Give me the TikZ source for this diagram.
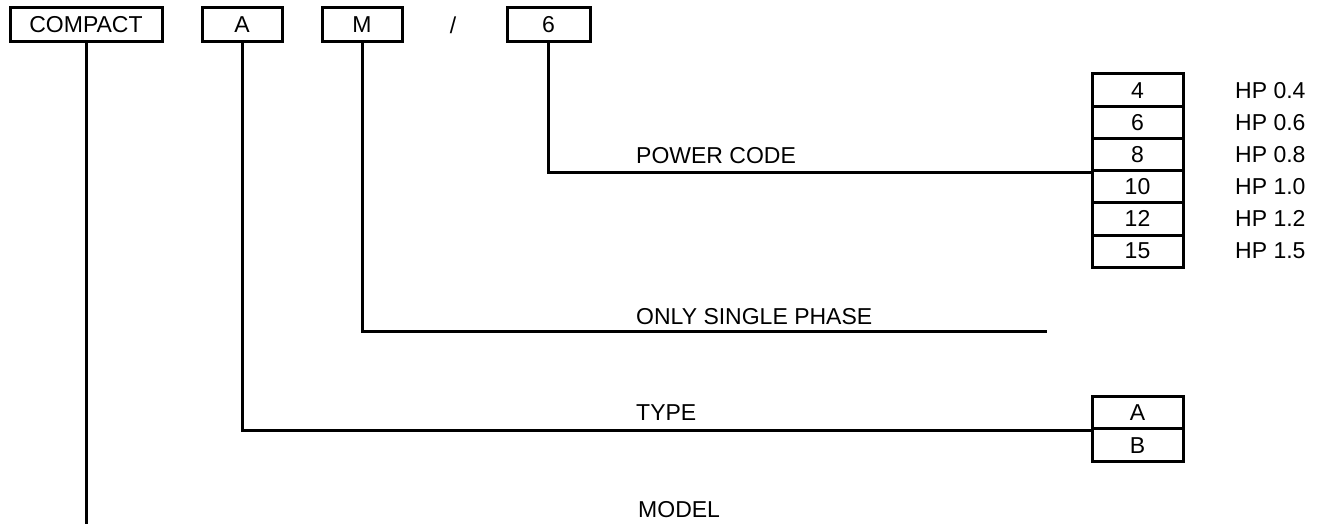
\documentclass[tikz,border=0pt]{standalone}
\usepackage{fontspec}
\setmainfont{Liberation Sans}
\begin{document}
\begin{tikzpicture}[x=1pt,y=-1pt,
  every node/.style={font=\fontsize{23}{26}\selectfont, inner sep=0pt},
  codebox/.style={draw, line width=3pt, minimum height=34pt},
  cell/.style={draw, line width=3pt, minimum width=91pt, minimum height=32.2pt},
  lab/.style={anchor=base west},
  hp/.style={anchor=west},
  conn/.style={line width=3pt}]
\useasboundingbox (0,0) rectangle (1329,524);
% top code boxes
\node[codebox, minimum width=152pt] (compact) at (86,25) {COMPACT};
\node[codebox, minimum width=80pt] (bA) at (242,25) {A};
\node[codebox, minimum width=80pt] (bM) at (362,25) {M};
\node (slash) at (453,25) {/};
\node[codebox, minimum width=83pt] (b6) at (548.5,25) {6};
% power table
\node[cell] (p4) at (1137.5,90.1) {4};
\node[cell] (p6) at (1137.5,122.3) {6};
\node[cell] (p8) at (1137.5,154.5) {8};
\node[cell] (p10) at (1137.5,186.7) {10};
\node[cell] (p12) at (1137.5,218.9) {12};
\node[cell] (p15) at (1137.5,251.1) {15};
\node[hp] (h4) at (1235,90.1) {HP 0.4};
\node[hp] (h6) at (1235,122.3) {HP 0.6};
\node[hp] (h8) at (1235,154.5) {HP 0.8};
\node[hp] (h10) at (1235,186.7) {HP 1.0};
\node[hp] (h12) at (1235,218.9) {HP 1.2};
\node[hp] (h15) at (1235,251.1) {HP 1.5};
% type table
\node[cell, minimum height=32.5pt] (tA) at (1137.5,412.5) {A};
\node[cell, minimum height=33pt] (tB) at (1137.5,445.2) {B};
% labels
\node[lab] (lpower) at (636,163) {POWER CODE};
\node[lab] (lsingle) at (636,324) {ONLY SINGLE PHASE};
\node[lab] (ltype) at (636,420) {TYPE};
\node[lab] (lmodel) at (638,517) {MODEL};
% connectors
\coordinate (compactEnd) at (86,524);
\coordinate (singleEnd) at (1047,331);
\draw[conn] (compact.south) -- (compactEnd);
\draw[conn] (bA.south) |- (tA.south west);
\draw[conn] (bM.south) |- (singleEnd);
\draw[conn] (b6.south) |- (p8.south west);
\end{tikzpicture}
\end{document}
